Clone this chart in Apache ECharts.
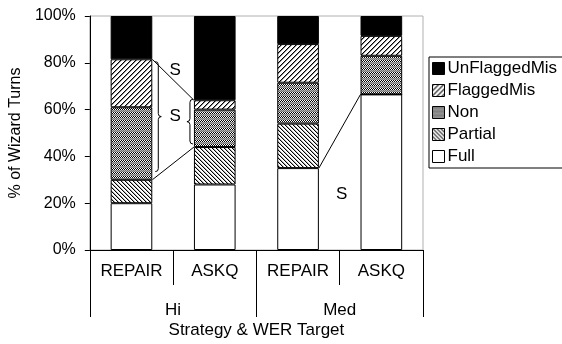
<!DOCTYPE html>
<html>
<head>
<meta charset="utf-8">
<script src="https://cdn.jsdelivr.net/npm/echarts@6/dist/echarts.min.js"></script>
<style>
  html, body { margin: 0; padding: 0; background: #fff; }
  #c { width: 562px; height: 344px; }
</style>
</head>
<body>
<div id="c"></div>
<script>
// Strategy / WER target categories
const categories = ['REPAIR', 'ASKQ', 'REPAIR', 'ASKQ'];
const groups = ['Hi', 'Med'];

// Share of wizard turns (%) per outcome, bottom to top of each stack
const full         = [20,   28,  35,   66.5];
const partial      = [10,   16,  19,   0];
const non          = [31,   16,  17.5, 16.5];
const flaggedMis   = [20.5, 4,   16.5, 8.5];
const unFlaggedMis = [18.5, 36,  12,   8.5];

const yTicks = [0, 20, 40, 60, 80, 100];
const legendOrder = ['UnFlaggedMis', 'FlaggedMis', 'Non', 'Partial', 'Full'];

// Significance notes: connectors between stack levels, braces, "S" marks
const connectors = [
  { from: 0, to: 1, layer: 'FlaggedMis' },
  { from: 0, to: 1, layer: 'Partial' },
  { from: 2, to: 3, layer: 'Full' }
];
const braces = [
  { cat: 0, side: 'right', lo: 33.5, hi: 80.5 },
  { cat: 1, side: 'left',  lo: 45.3, hi: 64.4 }
];
const sMarks = [
  { gap: 0, at: 77 },
  { gap: 0, at: 57 },
  { gap: 2, at: 24 }
];

const FONT = 'Liberation Sans, Arial, sans-serif';
const BAR_RATIO = 0.5;

function makePattern(w, h, paint) {
  const cv = document.createElement('canvas');
  cv.width = w; cv.height = h;
  const ctx = cv.getContext('2d');
  ctx.fillStyle = '#fff';
  ctx.fillRect(0, 0, w, h);
  for (let y = 0; y < h; y++) {
    for (let x = 0; x < w; x++) {
      const c = paint(x, y);
      if (c) { ctx.fillStyle = c; ctx.fillRect(x, y, 1, 1); }
    }
  }
  return { image: cv, repeat: 'repeat' };
}

const fills = {
  Full: '#ffffff',
  Partial: makePattern(4, 4, (x, y) => {
    const k = (x - y + 8) % 4;
    return k === 0 ? '#000' : (k === 1 ? '#b0b0b0' : null);
  }),
  Non: makePattern(2, 4, (x, y) => y < 2
    ? ((x + y) % 2 ? '#000' : null)
    : ((x + y) % 2 ? '#6e6e6e' : '#b4b4b4')),
  FlaggedMis: makePattern(5, 5, (x, y) => {
    const k = (x + y) % 5;
    return k === 0 ? '#000' : (k === 1 ? '#8a8a8a' : null);
  }),
  UnFlaggedMis: '#000000'
};

const layers = [
  { name: 'Full', data: full },
  { name: 'Partial', data: partial },
  { name: 'Non', data: non },
  { name: 'FlaggedMis', data: flaggedMis },
  { name: 'UnFlaggedMis', data: unFlaggedMis }
];

// cumulative top of each layer per category
const tops = {};
let running = categories.map(() => 0);
layers.forEach(l => {
  running = running.map((v, i) => v + l.data[i]);
  tops[l.name] = running.slice();
});

const notes = [
  ...connectors.map(c => Object.assign({ kind: 'link' }, c)),
  ...braces.map(b => Object.assign({ kind: 'brace' }, b)),
  ...sMarks.map(s => Object.assign({ kind: 's' }, s))
];

function renderNote(params, api) {
  const n = notes[params.dataIndex];
  const band = api.size([1, 0])[0];
  const half = band * BAR_RATIO / 2;
  const ink = { stroke: '#000', lineWidth: 1, fill: null };
  if (n.kind === 'link') {
    const v = tops[n.layer];
    const a = api.coord([n.from, v[n.from]]);
    const b = api.coord([n.to, v[n.to]]);
    return { type: 'line', shape: { x1: a[0] + half, y1: a[1], x2: b[0] - half, y2: b[1] }, style: ink };
  }
  if (n.kind === 'brace') {
    const s = n.side === 'right' ? 1 : -1;
    const c = api.coord([n.cat, n.hi]);
    const y1 = c[1];
    const y2 = api.coord([n.cat, n.lo])[1];
    const ym = (y1 + y2) / 2;
    const x0 = c[0] + s * (half + (s > 0 ? 6 : 4));
    const r = 3, d = 3;
    const q = (x1, yy1, cx, cy, x2, yy2) => ({
      type: 'bezierCurve', shape: { x1: x1, y1: yy1, cpx1: cx, cpy1: cy, x2: x2, y2: yy2 }, style: ink
    });
    const ln = (xa, ya, xb, yb) => ({ type: 'line', shape: { x1: xa, y1: ya, x2: xb, y2: yb }, style: ink });
    return {
      type: 'group',
      children: [
        q(x0 - s * r, y1, x0, y1, x0, y1 + r),
        ln(x0, y1 + r, x0, ym - r),
        q(x0, ym - r, x0, ym, x0 + s * d, ym),
        q(x0 + s * d, ym, x0, ym, x0, ym + r),
        ln(x0, ym + r, x0, y2 - r),
        q(x0, y2 - r, x0, y2, x0 - s * r, y2)
      ]
    };
  }
  const p = api.coord([n.gap, n.at]);
  return {
    type: 'text',
    style: {
      text: 'S', x: p[0] + band / 2 + 2, y: p[1],
      align: 'center', verticalAlign: 'middle',
      fontSize: 17, fontFamily: FONT, fill: '#000'
    }
  };
}

const chart = echarts.init(document.getElementById('c'), null, { renderer: 'canvas' });

chart.setOption({
  animation: false,
  backgroundColor: '#fff',
  textStyle: { fontFamily: FONT, color: '#000' },
  grid: {
    left: 87, right: 139, top: 16, bottom: 92,
    show: true, borderColor: '#b0b0b0', borderWidth: 1,
    backgroundColor: 'transparent', containLabel: false
  },
  legend: {
    orient: 'vertical',
    left: 429, top: 57,
    padding: [3, 12, 3, 3],
    itemGap: 5,
    itemWidth: 12, itemHeight: 12,
    itemStyle: { borderColor: '#000', borderWidth: 1 },
    icon: 'rect',
    borderColor: '#000', borderWidth: 1,
    backgroundColor: '#fff',
    data: legendOrder,
    textStyle: { fontSize: 17, fontFamily: FONT, color: '#000', lineHeight: 17, padding: [0, 0, 0, -2] },
    selectedMode: false
  },
  xAxis: [
    {
      type: 'category',
      data: categories,
      position: 'bottom',
      axisLine: { show: true, lineStyle: { color: '#000', width: 1 } },
      axisTick: { show: true, length: 35, interval: 0, lineStyle: { color: '#000' } },
      axisLabel: { interval: 0, margin: 13, fontSize: 17, fontFamily: FONT, color: '#000' },
      splitLine: { show: false }
    },
    {
      type: 'category',
      data: groups,
      position: 'bottom',
      axisLine: { show: false },
      axisTick: { show: true, length: 67, interval: 0, lineStyle: { color: '#000' } },
      axisLabel: { interval: 0, margin: 52, fontSize: 17, fontFamily: FONT, color: '#000' },
      splitLine: { show: false },
      name: 'Strategy & WER Target',
      nameLocation: 'middle',
      nameGap: 72,
      nameMoveOverlap: false,
      nameTextStyle: { fontSize: 17, fontFamily: FONT, color: '#000' }
    }
  ],
  yAxis: {
    type: 'value',
    min: yTicks[0], max: yTicks[yTicks.length - 1], interval: yTicks[1] - yTicks[0],
    axisLine: { show: true, lineStyle: { color: '#000', width: 1 } },
    axisTick: { show: true, length: 5, lineStyle: { color: '#000' } },
    axisLabel: { formatter: '{value}%', margin: 14, fontSize: 16, fontFamily: FONT, color: '#000' },
    splitLine: { show: false },
    name: '% of Wizard Turns',
    nameLocation: 'middle',
    nameRotate: 90,
    nameGap: 59,
    nameTextStyle: { fontSize: 16, fontFamily: FONT, color: '#000' }
  },
  series: [
    ...layers.map(l => ({
      name: l.name,
      type: 'bar',
      stack: 'turns',
      xAxisIndex: 0,
      barWidth: (BAR_RATIO * 100) + '%',
      data: l.data,
      itemStyle: { color: fills[l.name], borderColor: '#000', borderWidth: 1 },
      emphasis: { disabled: true },
      silent: true
    })),
    {
      name: 'notes',
      type: 'custom',
      xAxisIndex: 0,
      z: 5,
      silent: true,
      clip: false,
      renderItem: renderNote,
      data: notes.map((n, i) => [n.from !== undefined ? n.from : (n.cat !== undefined ? n.cat : n.gap), 0, i])
    }
  ]
});
</script>
</body>
</html>
